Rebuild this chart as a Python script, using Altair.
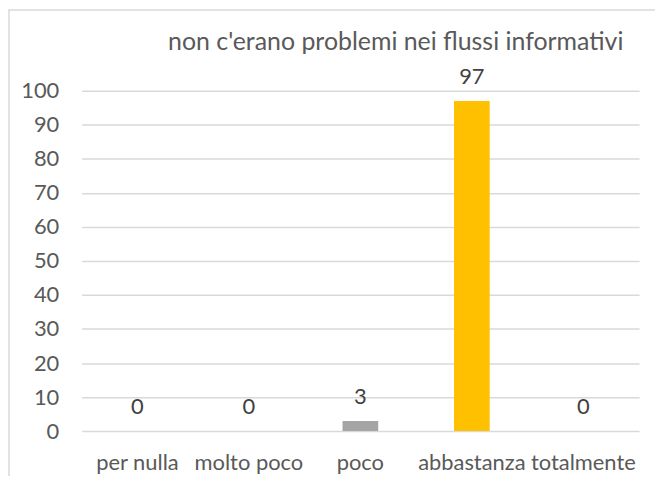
import altair as alt
import pandas as pd

categories = ["per nulla", "molto poco", "poco", "abbastanza", "totalmente"]
values = [0, 0, 3, 97, 0]
colors = ["#4472c4", "#ed7d31", "#a5a5a5", "#ffc000", "#5b9bd5"]
title_text = "non c'erano problemi nei flussi informativi"
y_ticks = list(range(0, 101, 10))

df = pd.DataFrame({"cat": categories, "val": values, "color": colors})

W = 560
H = 342
FONT = "Lato"

x_enc = alt.X(
    "cat:N",
    sort=categories,
    scale=alt.Scale(paddingInner=0.68, paddingOuter=0.34),
    axis=alt.Axis(
        title=None, labelAngle=0, domain=False, ticks=False, grid=False,
        labelFont=FONT, labelFontSize=22, labelColor="#595959",
        labelPadding=22, labelBaseline="top", labelOverlap=False,
    ),
)
y_enc = alt.Y(
    "val:Q",
    scale=alt.Scale(domain=[0, 100], nice=False, zero=True),
    axis=alt.Axis(
        title=None, values=y_ticks, domain=False, ticks=False, grid=True,
        gridColor="#d9d9d9", gridWidth=1.5, labelOverlap=False,
        labelFont=FONT, labelFontSize=22, labelColor="#595959", labelPadding=23,
    ),
)

base = alt.Chart(df)

bars = base.mark_bar().encode(
    x=x_enc,
    y=y_enc,
    color=alt.Color("color:N", scale=None),
)

labels = base.mark_text(
    baseline="alphabetic", dy=-17, font=FONT, fontSize=22, color="#404040"
).encode(
    x=x_enc,
    y=y_enc,
    text=alt.Text("val:Q"),
)

title_mark = alt.Chart(pd.DataFrame({"t": [title_text]})).mark_text(
    baseline="alphabetic", align="center", font=FONT, fontSize=25, color="#595959"
).encode(
    x=alt.value(315.5),
    y=alt.value(-41),
    text="t:N",
)

frame = alt.Chart(pd.DataFrame({"a": [0]})).mark_rect(
    fill=None, stroke="#d9d9d9", strokeWidth=1.5
).encode(
    x=alt.value(-73),
    x2=alt.value(W + 200),
    y=alt.value(-81),
    y2=alt.value(H + 200),
)

chart = (
    alt.layer(frame, bars, labels, title_mark)
    .properties(
        width=W,
        height=H,
        background="white",
        autosize=alt.AutoSizeParams(type="none"),
        padding={"left": 74, "top": 82, "right": 16, "bottom": 44},
    )
    .configure_view(stroke=None)
)

chart.save("out.html", embed_options={"renderer": "svg", "actions": False})
